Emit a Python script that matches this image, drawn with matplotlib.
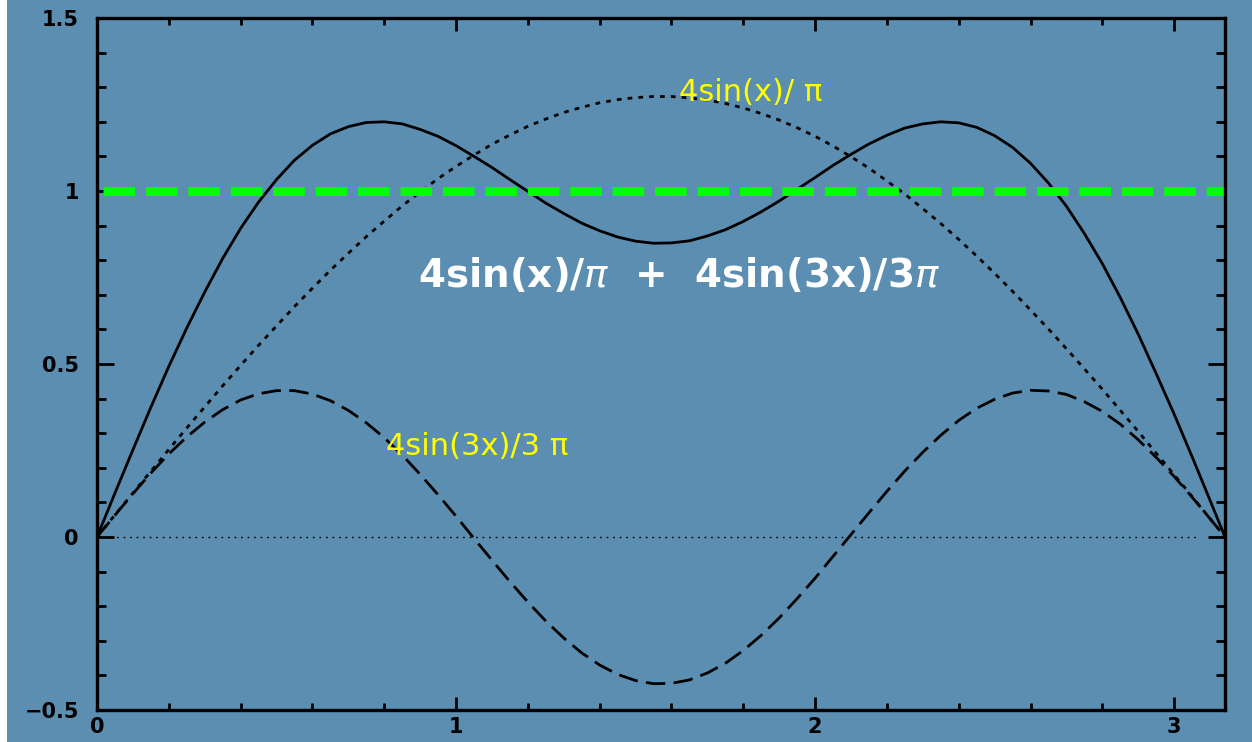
import numpy as np
import matplotlib
matplotlib.use('Agg')
import matplotlib.pyplot as plt
from matplotlib.patches import Rectangle
from matplotlib.ticker import MultipleLocator

# values, x in steps of 0.05 up to pi
x = [0.0, 0.05, 0.1, 0.15, 0.2, 0.25, 0.3, 0.35, 0.4, 0.45, 0.5, 0.55, 0.6, 0.65,
     0.7, 0.75, 0.8, 0.85, 0.9, 0.95, 1.0, 1.05, 1.1, 1.15, 1.2, 1.25, 1.3, 1.35,
     1.4, 1.45, 1.5, 1.55, 1.6, 1.65, 1.7, 1.75, 1.8, 1.85, 1.9, 1.95, 2.0, 2.05,
     2.1, 2.15, 2.2, 2.25, 2.3, 2.35, 2.4, 2.45, 2.5, 2.55, 2.6, 2.65, 2.7, 2.75,
     2.8, 2.85, 2.9, 2.95, 3.0, 3.05, 3.1, 3.1416]

first_term = [0.0, 0.064, 0.127, 0.190, 0.253, 0.315, 0.376, 0.437, 0.496, 0.554,
              0.610, 0.666, 0.719, 0.771, 0.820, 0.868, 0.913, 0.957, 0.997, 1.036,
              1.071, 1.104, 1.135, 1.162, 1.187, 1.208, 1.227, 1.242, 1.255, 1.264,
              1.270, 1.273, 1.273, 1.269, 1.263, 1.253, 1.240, 1.224, 1.205, 1.183,
              1.158, 1.130, 1.099, 1.066, 1.029, 0.991, 0.949, 0.906, 0.860, 0.812,
              0.762, 0.710, 0.656, 0.601, 0.544, 0.486, 0.427, 0.366, 0.305, 0.242,
              0.180, 0.117, 0.053, 0.0]

third_term = [0.0, 0.063, 0.125, 0.185, 0.240, 0.289, 0.332, 0.368, 0.396, 0.414,
              0.423, 0.423, 0.413, 0.394, 0.366, 0.330, 0.287, 0.237, 0.181, 0.122,
              0.060, -0.004, -0.067, -0.129, -0.188, -0.243, -0.292, -0.335, -0.370, -0.397,
              -0.415, -0.424, -0.423, -0.413, -0.393, -0.365, -0.328, -0.284, -0.234, -0.178,
              -0.119, -0.056, 0.007, 0.070, 0.132, 0.191, 0.245, 0.294, 0.337, 0.372,
              0.398, 0.416, 0.424, 0.422, 0.412, 0.391, 0.363, 0.326, 0.281, 0.230,
              0.175, 0.115, 0.053, 0.0]

partial_sum = [0.0, 0.127, 0.252, 0.375, 0.493, 0.604, 0.708, 0.805, 0.892, 0.968,
               1.033, 1.089, 1.132, 1.165, 1.186, 1.198, 1.200, 1.194, 1.178, 1.158,
               1.131, 1.100, 1.068, 1.033, 0.999, 0.965, 0.935, 0.907, 0.885, 0.867,
               0.855, 0.849, 0.850, 0.856, 0.870, 0.888, 0.912, 0.940, 0.971, 1.005,
               1.039, 1.074, 1.106, 1.136, 1.161, 1.182, 1.194, 1.200, 1.197, 1.184,
               1.160, 1.126, 1.080, 1.023, 0.956, 0.877, 0.790, 0.692, 0.586, 0.472,
               0.355, 0.232, 0.106, 0.0]

target_x = [0.017, 3.1416]
target_y = [1.0, 1.0]
zero_x = [0.0, 3.07]
zero_y = [0.0, 0.0]

bg = '#5b8eb0'

fig = plt.figure(figsize=(12.52, 7.42), dpi=100)
fig.patch.set_facecolor(bg)
fig.patches.append(Rectangle((0, 0), 7 / 1252, 1, transform=fig.transFigure,
                             facecolor='white', edgecolor='none', zorder=-1))
ax = fig.add_axes([97 / 1252, 1 - 710 / 742, (1225 - 97) / 1252, (710 - 18) / 742])
ax.set_facecolor(bg)

ax.plot(zero_x, zero_y, color='black', lw=1.0, linestyle=(0, (1.2, 3.5)))
ax.plot(x, first_term, color='black', lw=2.0, linestyle=(0, (1.7, 2.2)))
ax.plot(x, third_term, color='black', lw=2.0, linestyle=(0, (7, 3)))
ax.plot(x, partial_sum, color='black', lw=2.0, linestyle='-')
ax.plot(target_x, target_y, color='#00ff00', lw=6.5, linestyle=(0, (3.5, 1.2)))

ax.set_xlim(0, 3.1416)
ax.set_ylim(-0.5, 1.5)
ax.xaxis.set_minor_locator(MultipleLocator(0.2))
ax.yaxis.set_minor_locator(MultipleLocator(0.1))
ax.set_xticks([0, 1, 2, 3])
ax.set_xticklabels(['0', '1', '2', '3'])
ax.set_yticks([-0.5, 0, 0.5, 1, 1.5])
ax.set_yticklabels(['\u22120.5', '0', '0.5', '1', '1.5'])

for s in ax.spines.values():
    s.set_linewidth(2.4)
ax.tick_params(axis='both', which='both', direction='in', top=True, right=True,
               colors='black', width=2.0)
ax.tick_params(axis='y', which='major', length=12, pad=13)
ax.tick_params(axis='y', which='minor', length=6.5)
ax.tick_params(axis='x', which='major', length=9.5, pad=5)
ax.tick_params(axis='x', which='minor', length=5)
for lab in ax.get_xticklabels() + ax.get_yticklabels():
    lab.set_fontsize(15)
    lab.set_fontweight('heavy')

ax.text(1.62, 1.285, '4sin(x)/ \u03c0', color='#ffff00', fontsize=22,
        family='DejaVu Sans', va='center', ha='left')
ax.text(0.805, 0.262, '4sin(3x)/3 \u03c0', color='#ffff00', fontsize=22,
        family='DejaVu Sans', va='center', ha='left')
ax.text(0.895, 0.757, '4sin(x)/$\\pi$  +  4sin(3x)/3$\\pi$', color='white', fontsize=28,
        fontweight='bold', family='DejaVu Sans', va='center', ha='left')

fig.savefig('out.png', dpi=100, facecolor=bg)
